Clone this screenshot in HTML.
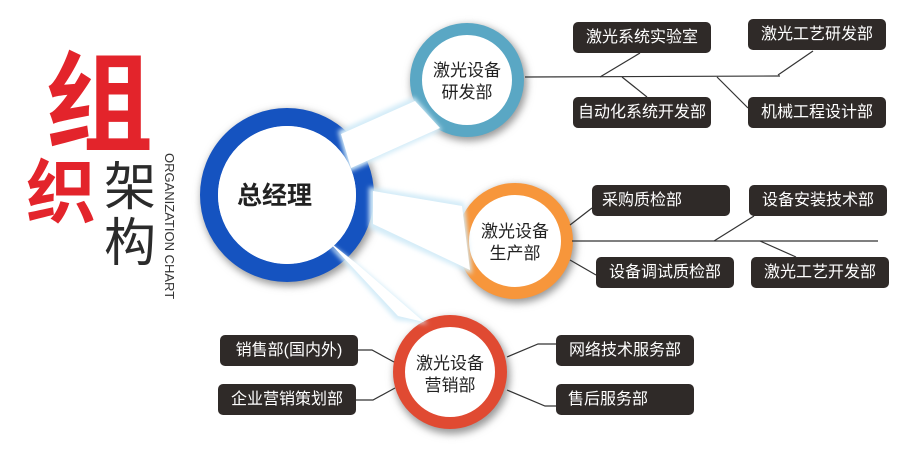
<!DOCTYPE html>
<html><head><meta charset="utf-8"><style>
body{margin:0;width:900px;height:450px;background:#fff;overflow:hidden;position:relative;font-family:"Liberation Sans","Noto Sans CJK SC",sans-serif}
.b{position:absolute;width:138px;height:31px;background:#2f2a28;border-radius:5px;color:#fff;font-size:16px;line-height:31px;text-align:center}
.t{position:absolute;font-family:"Noto Sans CJK SC",sans-serif}
</style></head><body>
<svg width="900" height="450" style="position:absolute;left:0;top:0">
<defs>
<filter id="s" x="-30%" y="-30%" width="160%" height="160%"><feGaussianBlur stdDeviation="4"/></filter>
<filter id="e" x="-30%" y="-30%" width="160%" height="160%"><feGaussianBlur stdDeviation="2.5"/></filter>
</defs>
<g fill="#999" filter="url(#s)">
<circle cx="289" cy="198" r="88"/><circle cx="469" cy="83" r="58"/><circle cx="517" cy="244" r="59"/><circle cx="452" cy="376" r="58"/>
</g>
<circle cx="287" cy="195" r="78" fill="#fff" stroke="#1553c0" stroke-width="18"/>
<circle cx="467" cy="80" r="51" fill="#fff" stroke="#5aa7c4" stroke-width="12"/>
<circle cx="515" cy="241" r="52" fill="#fff" stroke="#f7963b" stroke-width="12"/>
<circle cx="450" cy="372" r="51" fill="#fff" stroke="#e04a32" stroke-width="12"/>
<g fill="#d4ecf8" filter="url(#e)">
<polygon points="338,131 349,172 442,130 414,97"/>
<polygon points="369,187 369,228 472,274 464,202"/>
<polygon points="322,238 360,266 428,324 396,320"/>
</g>
<g fill="#fff">
<polygon points="341,134 351,168 440,128 415,101"/>
<polygon points="373,191 373,224 470,270 462,206"/>
<polygon points="327,240 357,264 424,322 398,316"/>
<circle cx="287" cy="195" r="69"/>
</g>
<g stroke="#333" stroke-width="1.2" fill="none">
<line x1="525" y1="77" x2="780" y2="76"/>
<line x1="600" y1="77" x2="640" y2="53"/><line x1="622" y1="77" x2="647" y2="97"/>
<line x1="717" y1="77" x2="748" y2="108"/><line x1="778" y1="75" x2="813" y2="51"/>
<line x1="572" y1="241" x2="878" y2="241"/>
<line x1="570" y1="225" x2="592" y2="208"/><line x1="570" y1="260" x2="596" y2="275"/>
<line x1="714" y1="241" x2="754" y2="216"/><line x1="760" y1="241" x2="796" y2="257"/>
<polyline points="358,350 372,350 394,362"/><polyline points="356,400 373,400 395,388"/>
<polyline points="507,357 538,344 556,344"/><polyline points="507,390 545,406 556,406"/>
</g>
</svg>
<div class="t" style="left:45px;top:38px;font-size:108px;color:#e3242b;font-weight:bold;line-height:116px">组</div>
<div class="t" style="left:26px;top:150px;font-size:70px;color:#e3242b;font-weight:bold;line-height:76px">织</div>
<div class="t" style="left:104px;top:155px;font-size:52px;color:#2b2b2b;line-height:56px">架<br>构</div>
<div style="position:absolute;left:160px;top:153px;width:160px;font-size:13px;color:#333;transform-origin:0 0;transform:translate(17px,0) rotate(90deg);white-space:nowrap">ORGANIZATION CHART</div>
<div class="t" style="left:237px;top:176px;font-size:25px;font-weight:bold;color:#222">总经理</div>
<div class="t" style="left:427px;top:58px;width:80px;text-align:center;font-size:17px;line-height:22px;color:#222">激光设备<br>研发部</div>
<div class="t" style="left:475px;top:219px;width:80px;text-align:center;font-size:17px;line-height:22px;color:#222">激光设备<br>生产部</div>
<div class="t" style="left:410px;top:351px;width:80px;text-align:center;font-size:17px;line-height:22px;color:#222">激光设备<br>营销部</div>
<div class="b" style="left:573px;top:22px">激光系统实验室</div>
<div class="b" style="left:748px;top:19px">激光工艺研发部</div>
<div class="b" style="left:573px;top:97px">自动化系统开发部</div>
<div class="b" style="left:748px;top:97px">机械工程设计部</div>
<div class="b" style="left:592px;top:185px;text-align:left;padding-left:10px;width:128px">采购质检部</div>
<div class="b" style="left:749px;top:185px">设备安装技术部</div>
<div class="b" style="left:596px;top:257px">设备调试质检部</div>
<div class="b" style="left:751px;top:257px">激光工艺开发部</div>
<div class="b" style="left:220px;top:335px">销售部(国内外)</div>
<div class="b" style="left:218px;top:384px">企业营销策划部</div>
<div class="b" style="left:556px;top:335px">网络技术服务部</div>
<div class="b" style="left:556px;top:384px;text-align:left;padding-left:12px;width:126px">售后服务部</div>
</body></html>
